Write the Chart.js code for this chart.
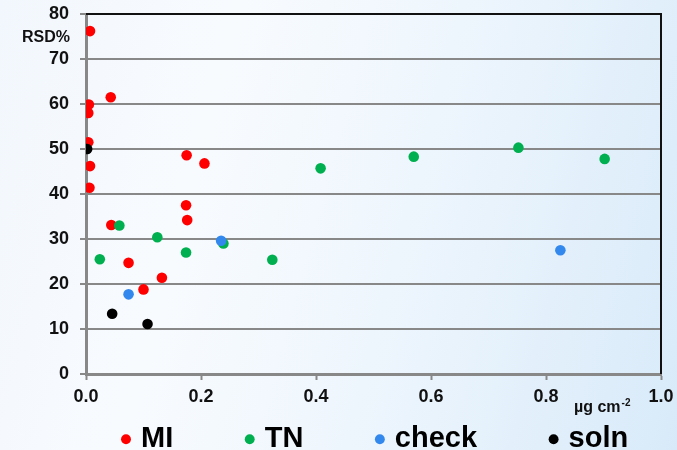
<!DOCTYPE html>
<html>
<head>
<meta charset="utf-8">
<script src="https://cdn.jsdelivr.net/npm/chart.js@4/dist/chart.umd.min.js"></script>
<style>
html,body{margin:0;padding:0;width:677px;height:450px;overflow:hidden;}
body{background:linear-gradient(105deg,#f2f7fd 0%,#f8fbfe 30%,#eef6fd 58%,#d8eaf9 100%);}
#wrap{position:relative;width:677px;height:450px;}
canvas{display:block;}
</style>
</head>
<body>
<div id="wrap"><canvas id="c" width="677" height="450"></canvas></div>
<script>
// ---- data ----
const seriesNames = ['MI', 'TN', 'check', 'soln'];
const seriesColors = ['#ff0000', '#00b050', '#3388ee', '#000000'];

const miX = [0.007, 0.005, 0.004, 0.043, 0.004, 0.007, 0.006, 0.175, 0.206, 0.044, 0.074, 0.100, 0.132, 0.174, 0.176];
const miY = [76.2, 59.9, 58.0, 61.5, 51.5, 46.2, 41.4, 48.6, 46.8, 33.1, 24.7, 18.8, 21.4, 37.5, 34.2];

const tnX = [0.024, 0.058, 0.124, 0.174, 0.239, 0.324, 0.408, 0.570, 0.752, 0.902];
const tnY = [25.5, 33.0, 30.4, 27.0, 29.0, 25.4, 45.7, 48.3, 50.3, 47.8];

const checkX = [0.074, 0.235, 0.825];
const checkY = [17.7, 29.6, 27.5];

const solnX = [0.002, 0.0455, 0.107];
const solnY = [50.0, 13.4, 11.1];

const xTickLabels = ['0.0', '0.2', '0.4', '0.6', '0.8', '1.0'];
const yTickLabels = ['0', '10', '20', '30', '40', '50', '60', '70', '80'];
const yAxisLabel = 'RSD%';
const xUnitMain = 'µg cm';
const xUnitSup = '-2';

// ---- build ----
const FONT = '"Liberation Sans", Arial, sans-serif';
const toPts = (xs, ys) => xs.map((x, i) => ({x: x, y: ys[i]}));
const seriesData = [toPts(miX, miY), toPts(tnX, tnY), toPts(checkX, checkY), toPts(solnX, solnY)];

const datasets = seriesNames.map((name, i) => ({
  label: name,
  data: seriesData[i],
  backgroundColor: seriesColors[i],
  borderColor: seriesColors[i],
  borderWidth: 0,
  pointRadius: 5.3,
  pointHoverRadius: 5.3,
  pointBorderWidth: 0,
  order: seriesNames.length - i
}));

const decor = {
  id: 'decor',
  afterLayout(chart) {
    const lg = chart.legend;
    if (lg) {
      lg.left = 49.5;
      lg.right = 1000;
      lg.top = 348.8;
      lg.bottom = 470;
    }
  },
  beforeDatasetsDraw(chart) {
    const {ctx, chartArea: a} = chart;
    ctx.save();
    ctx.strokeStyle = '#111111';
    ctx.lineWidth = 2;
    ctx.beginPath();
    ctx.moveTo(a.left, a.top);
    ctx.lineTo(a.right, a.top);
    ctx.lineTo(a.right, a.bottom);
    ctx.stroke();
    ctx.restore();
  },
  afterDraw(chart) {
    const {ctx, chartArea: a} = chart;
    ctx.save();
    ctx.fillStyle = '#111111';
    ctx.font = 'bold 16px ' + FONT;
    ctx.textAlign = 'right';
    ctx.textBaseline = 'middle';
    ctx.fillText(yAxisLabel, a.left - 16, a.top + 24);
    ctx.textAlign = 'left';
    ctx.textBaseline = 'alphabetic';
    const ux = 574, uy = 412;
    ctx.fillText(xUnitMain, ux, uy);
    const w = ctx.measureText(xUnitMain).width;
    ctx.font = 'bold 10px ' + FONT;
    ctx.fillText(xUnitSup, ux + w + 1, uy - 6);
    ctx.restore();
  }
};

new Chart(document.getElementById('c'), {
  type: 'scatter',
  data: {datasets: datasets},
  plugins: [decor],
  options: {
    responsive: false,
    animation: false,
    layout: {padding: {top: 14, right: 16, left: 0, bottom: 0}},
    plugins: {
      tooltip: {enabled: false},
      legend: {
        position: 'bottom',
        align: 'start',
        maxHeight: 30,
        labels: {
          usePointStyle: true,
          boxWidth: 1,
          boxHeight: 7,
          padding: 76,
          color: '#000000',
          font: {family: FONT, size: 29, weight: 'bold'},
          sort: (a, b) => a.datasetIndex - b.datasetIndex
        }
      }
    },
    scales: {
      x: {
        type: 'linear',
        min: 0,
        max: 1,
        afterFit: s => { s.height = 46; s.paddingLeft = 0; s.paddingRight = 0; },
        ticks: {
          stepSize: 0.2,
          autoSkip: false,
          maxRotation: 0,
          padding: 6,
          color: '#111111',
          font: {family: FONT, size: 18, weight: 'bold'},
          callback: (v, i) => xTickLabels[i]
        },
        grid: {
          drawOnChartArea: false,
          drawTicks: true,
          tickLength: 6,
          tickColor: '#888888',
          tickWidth: 2
        },
        border: {color: '#888888', width: 3}
      },
      y: {
        min: 0,
        max: 80,
        afterFit: s => { s.width = 86; s.paddingTop = 0; s.paddingBottom = 0; },
        ticks: {
          stepSize: 10,
          padding: 11,
          color: '#111111',
          font: {family: FONT, size: 18, weight: 'bold'},
          callback: (v, i) => yTickLabels[i]
        },
        grid: {
          color: '#888888',
          lineWidth: 2,
          drawTicks: true,
          tickLength: 6,
          tickColor: '#888888',
          tickWidth: 2
        },
        border: {color: '#888888', width: 3}
      }
    }
  }
});
</script>
</body>
</html>
